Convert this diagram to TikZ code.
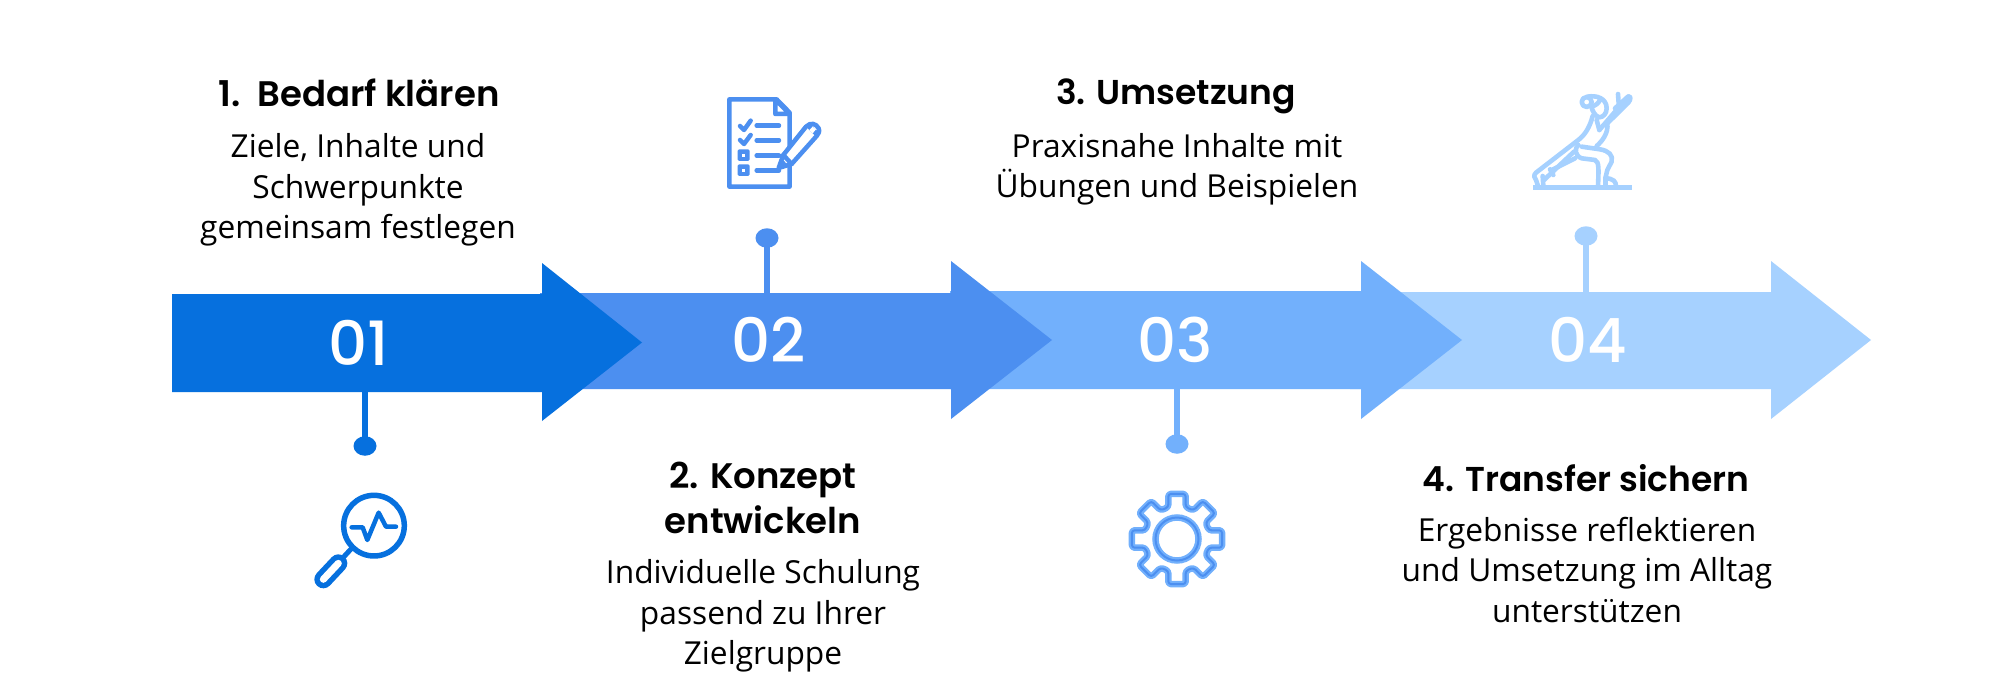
\documentclass[tikz,border=0pt]{standalone}
\usepackage{fontspec}
\setmainfont{Open Sans}
\newfontfamily\headfont[UprightFont={* SemiBold}]{Poppins}
\newfontfamily\numfont[UprightFont={* Medium}]{Poppins}
\usetikzlibrary{shapes.geometric}
\definecolor{cA}{HTML}{0670DE}
\definecolor{cB}{HTML}{4C8FF0}
\definecolor{cC}{HTML}{72B0FC}
\definecolor{cD}{HTML}{A6D1FF}
\tikzset{
  numlabel/.style={text=white,font=\numfont\fontsize{61}{61}\selectfont,inner sep=0pt},
  headlabel/.style={text=black,align=center,inner sep=0pt,font=\headfont\fontsize{35.5}{45}\selectfont},
  headlabelsmall/.style={headlabel,font=\headfont\fontsize{34.5}{45}\selectfont},
  bodylabel/.style={text=black,align=center,inner sep=0pt,font=\fontsize{31.7}{40.3}\selectfont},
  pin/.style={ellipse,fill=#1,draw=none,minimum width=23pt,minimum height=19.5pt,inner sep=0pt},
  stem/.style={draw=#1,line width=6pt},
  iconline/.style={draw=#1,line width=4.5pt,line cap=round,line join=round}
}
\begin{document}
\begin{tikzpicture}[x=1pt,y=-1pt]
\useasboundingbox (0,0) rectangle (2000,693);
\fill[white] (0,0) rectangle (2000,693);
% arrows, rightmost at the bottom
\fill[cD] (1350,292) -- (1771,292) -- (1771,261) -- (1871,340) -- (1771,419) -- (1771,389) -- (1350,389) -- cycle;
\fill[cC] (950,291) -- (1361,291) -- (1361,261) -- (1462,340) -- (1361,419) -- (1361,389) -- (950,389) -- cycle;
\fill[cB] (540,293) -- (951,293) -- (951,261) -- (1052,340) -- (951,419) -- (951,389) -- (540,389) -- cycle;
\fill[cA] (172,294) -- (542,294) -- (542,263) -- (642,342.5) -- (542,421) -- (542,392) -- (172,392) -- cycle;
% numbers
\node[numlabel] (n1) at (359,343) {01};
\node[numlabel] (n2) at (769,340) {02};
\node[numlabel] (n3) at (1175,340) {03};
\node[numlabel] (n4) at (1588,340) {04};
% pins
\coordinate (s1) at (365,392);
\coordinate (s2) at (767,293);
\coordinate (s3) at (1177,389);
\coordinate (s4) at (1586,292);
\node[pin=cA] (p1) at (365,446) {};
\node[pin=cB] (p2) at (767,238) {};
\node[pin=cC] (p3) at (1177,444) {};
\node[pin=cD] (p4) at (1586,236) {};
\draw[stem=cA] (s1) -- (p1.center);
\draw[stem=cB] (s2) -- (p2.center);
\draw[stem=cC] (s3) -- (p3.center);
\draw[stem=cD] (s4) -- (p4.center);
% texts
\node[headlabel] (h1) at (359,93) {1.\ \ Bedarf klären};
\node[bodylabel] (b1) at (358,190) {Ziele, Inhalte und\\Schwerpunkte\\gemeinsam festlegen};
\node[headlabel] (h2) at (763,497.5) {2. Konzept\\entwickeln};
\node[bodylabel] (b2) at (763,616) {Individuelle Schulung\\passend zu Ihrer\\Zielgruppe};
\node[headlabelsmall] (h3) at (1176,96.5) {3. Umsetzung};
\node[bodylabel] (b3) at (1177,169.5) {Praxisnahe Inhalte mit\\Übungen und Beispielen};
\node[headlabelsmall] (h4) at (1586,478) {4. Transfer sichern};
\node[bodylabel] (b4) at (1587,570) {Ergebnisse reflektieren\\und Umsetzung im Alltag\\unterstützen};
% icon 1: magnifier
\begin{scope}[shift={(280,470)},x=0.3333pt,y=-0.3333pt]
\draw[cA,line width=5.5pt] (282,167) circle [radius=91];
\draw[cA,line width=5pt] (215,235) -- (190,262);
\draw[cA,line width=18pt,line cap=round] (175,280) -- (130,328);
\draw[white,line width=7pt,line cap=round] (175,280) -- (130,328);
\draw[iconline=cA] (215,172) -- (248,172) -- (262,210) -- (296,128) -- (318,170) -- (348,170);
\end{scope}
% icon 2: checklist
\begin{scope}[shift={(680,80)},x=0.3333pt,y=-0.3333pt]
\draw[iconline=cB] (148,58) -- (290,58) -- (329,98) -- (329,320) -- (148,320) -- cycle;
\draw[iconline=cB] (286,58) -- (286,102) -- (329,102) -- cycle;
\draw[iconline=cB] (180,138) -- (192,150) -- (212,122);
\draw[iconline=cB] (180,180) -- (192,192) -- (212,165);
\draw[iconline=cB] (230,137) -- (297,137);
\draw[iconline=cB] (230,181) -- (297,181);
\draw[iconline=cB] (230,227) -- (297,227);
\draw[iconline=cB] (230,271) -- (297,271);
\fill[cB,rounded corners=1.5pt] (173,208) rectangle (209,243);
\fill[cB,rounded corners=1.5pt] (173,253) rectangle (209,288);
\fill[white] (187,222) rectangle (195,230);
\fill[white] (187,267) rectangle (195,275);
\draw[iconline=cB,fill=white] (296,264) -- (310,225) -- (378,140) .. controls (392,126) and (408,130) .. (416,145) .. controls (420,155) and (415,162) .. (410,168) -- (335,252) -- cycle;
\draw[iconline=cB] (310,225) -- (335,252);
\fill[cB] (296,264) -- (306,236) -- (324,256) -- cycle;
\fill[cB] (378,140) -- (408,170) -- (418,158) -- (388,130) -- cycle;
\fill[white] (388,150) -- (398,160) -- (408,148) -- (398,140) -- cycle;
\end{scope}
% icon 3: gear
\begin{scope}[shift={(1177,539)}]
\foreach \w/\c in {6.5pt/cC,2pt/cB}{
  \draw[\c,line width=\w] (0,0) circle [radius=21.5];
  \draw[\c,line width=\w,line join=round,rounded corners=3pt]
    (-15:33) -- (-11:46) -- (11:46) -- (15:33)
    -- (30:33) -- (34:46) -- (56:46) -- (60:33)
    -- (75:33) -- (79:46) -- (101:46) -- (105:33)
    -- (120:33) -- (124:46) -- (146:46) -- (150:33)
    -- (165:33) -- (169:46) -- (191:46) -- (195:33)
    -- (210:33) -- (214:46) -- (236:46) -- (240:33)
    -- (255:33) -- (259:46) -- (281:46) -- (285:33)
    -- (300:33) -- (304:46) -- (326:46) -- (330:33) -- cycle;
}
\end{scope}
% icon 4: lunge figure
\begin{scope}[shift={(1500,80)},x=0.3333pt,y=-0.3333pt]
\tikzset{fig/.style={iconline=cD,line width=4.6pt}}
\draw[cD,line width=4.7pt] (100,322) -- (395,322);
% bun and head
\draw[fig] (260,66) circle [radius=15];
\draw[fig] (262,50) .. controls (290,45) and (320,55) .. (320,85) .. controls (320,100) and (310,112) .. (298,112) .. controls (285,108) and (278,95) .. (274,80) .. controls (285,78) and (295,70) .. (300,60);
% back and rear leg upper edge
\draw[fig] (278,108) .. controls (270,140) and (255,165) .. (235,180) -- (108,278) .. controls (100,285) and (102,295) .. (108,300) -- (114,318);
\draw[fig] (128,288) -- (130,318);
% rear leg lower edge
\draw[fig] (132,300) -- (222,215);
\draw[fig] (150,268) -- (160,285);
\draw[fig] (155,270) -- (225,235);
% raised arm
\draw[fig] (298,150) -- (384,50) .. controls (392,45) and (394,58) .. (385,68) -- (322,130);
\draw[fig] (345,85) -- (384,50);
\draw[fig] (354,42) -- (356,70);
% chest
\draw[fig] (290,120) -- (298,150);
\draw[fig] (322,130) .. controls (326,160) and (305,185) .. (290,198);
% front thigh and shin
\draw[fig] (245,200) -- (300,208) .. controls (325,212) and (340,225) .. (335,245) -- (322,270) -- (316,295) .. controls (340,295) and (348,305) .. (348,318);
\draw[fig] (316,295) -- (316,318);
% lower thigh edge
\draw[fig] (235,195) .. controls (222,205) and (225,228) .. (245,235) -- (285,240) .. controls (298,245) and (296,270) .. (294,318);
\end{scope}
\end{tikzpicture}
\end{document}
